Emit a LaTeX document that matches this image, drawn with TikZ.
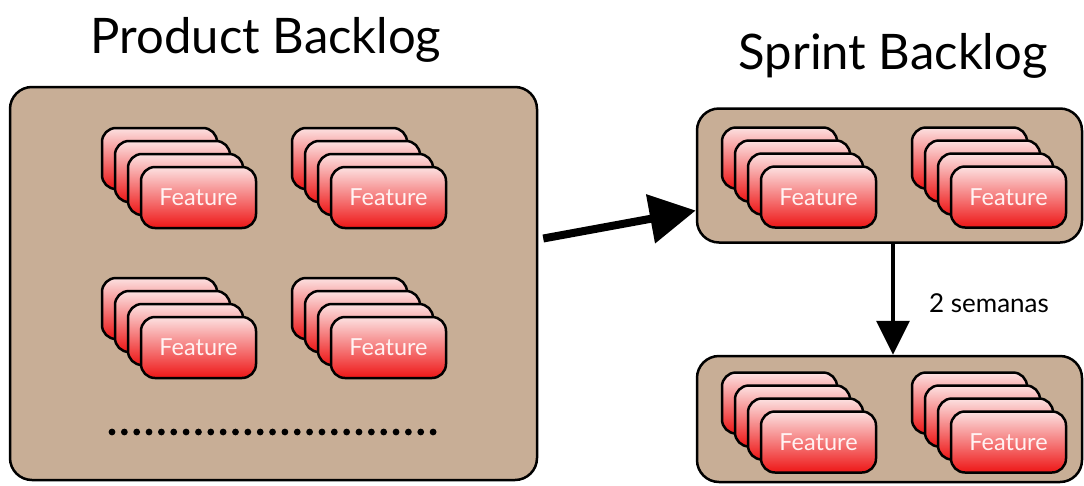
\documentclass[tikz,border=0pt]{standalone}
\usepackage{fontspec}
\setmainfont{Lato}
\usetikzlibrary{arrows.meta,calc}
\definecolor{tanfill}{RGB}{200,174,150}
\definecolor{cardtop}{RGB}{252,225,225}
\definecolor{cardbot}{RGB}{238,22,22}
\tikzset{
  panel/.style={draw=black, line width=2.5pt, fill=tanfill, rounded corners=22pt, inner sep=0pt},
  card/.style={draw=black, line width=2.5pt, rounded corners=14pt, top color=cardtop, bottom color=cardbot,
    minimum width=115pt, minimum height=61pt, inner sep=0pt, font=\fontsize{23.5}{28}\selectfont, text=white!95!red},
  titletext/.style={font=\fontsize{49}{58}\selectfont, anchor=base},
  bigarrow/.style={line width=8pt, -{Triangle[length=46pt,width=48pt]}},
  downarrow/.style={line width=3.5pt, -{Triangle[length=34pt,width=33pt]}},
  lbltext/.style={font=\fontsize{26}{30}\selectfont},
}
\newcommand\featstack[3]{%
  \foreach \k in {3,2,1}{\node[card] (#1-\k) at ({#2-13*\k},{#3-13*\k}) {};}
  \node[card] (#1-0) at (#2,#3) {Feature};
}
\begin{document}
\begin{tikzpicture}[x=1pt,y=-1pt]
\useasboundingbox (0,0) rectangle (1084,485);
\node[titletext] (t1) at (266,53) {Product Backlog};
\node[titletext] (t2) at (893,69) {Sprint Backlog};
\node[panel, minimum width=527pt, minimum height=393pt] (pb) at (273.5,283.5) {};
\node[panel, minimum width=385pt, minimum height=134pt] (sb) at (889.5,175.5) {};
\node[panel, minimum width=385pt, minimum height=126pt] (bb) at (889.5,419) {};
\featstack{s1}{198.5}{197.5}
\featstack{s2}{388.5}{197.5}
\featstack{s3}{198.5}{347.5}
\featstack{s4}{388.5}{347.5}
\featstack{s5}{818.5}{197}
\featstack{s6}{1008.5}{197}
\featstack{s7}{818.5}{442}
\featstack{s8}{1008.5}{442}
\foreach \i in {0,...,26}{\fill (112+\i*12.35,432) circle (3.4pt);}
\draw[bigarrow] ($(pb.east)+(5,-45)$) -- ($(sb.west)+(0,35)$);
\draw[downarrow] ([xshift=3.5pt]sb.south) -- ([xshift=3.5pt]bb.north);
\node[lbltext] (lbl) at (989,303) {2 semanas};
\end{tikzpicture}
\end{document}
